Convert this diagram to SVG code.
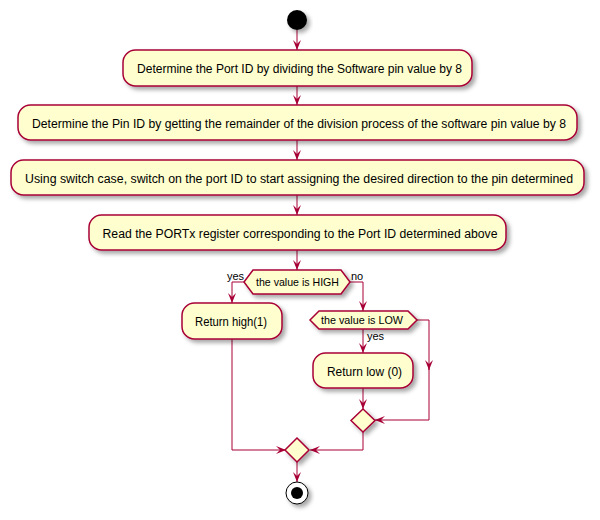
<svg xmlns="http://www.w3.org/2000/svg" width="600" height="520" viewBox="0 0 600 520">
<defs>
<filter id="sh" x="-20%" y="-20%" width="150%" height="170%">
<feDropShadow dx="3" dy="3" stdDeviation="2" flood-color="#000" flood-opacity="0.35"/>
</filter>
<marker id="ah" viewBox="0 0 10 8" refX="10" refY="4" markerWidth="10" markerHeight="8" markerUnits="userSpaceOnUse" orient="auto">
<path d="M0,0 L10,4 L0,8 L4,4 Z" fill="#A80036"/>
</marker>
<style>
.box{fill:#FEFECE;stroke:#A80036;stroke-width:1.5;filter:url(#sh)}
.t{font-family:"Liberation Sans",Arial,sans-serif;font-size:12px;fill:#000;text-anchor:middle}
.s{font-family:"Liberation Sans",Arial,sans-serif;font-size:11px;fill:#000}
.c{fill:none;stroke:#A80036;stroke-width:1}
</style>
</defs>
<rect width="600" height="520" fill="#fff"/>
<g id="connectors">
<path class="c" d="M297,30 V50" marker-end="url(#ah)"/>
<path class="c" d="M297,86 V105" marker-end="url(#ah)"/>
<path class="c" d="M297,140 V160" marker-end="url(#ah)"/>
<path class="c" d="M297,195 V215" marker-end="url(#ah)"/>
<path class="c" d="M297,250 V270" marker-end="url(#ah)"/>
<path class="c" d="M244,282 H232 V303" marker-end="url(#ah)"/>
<path class="c" d="M350,282 H363 V311" marker-end="url(#ah)"/>
<path class="c" d="M363,329 V353" marker-end="url(#ah)"/>
<path class="c" d="M417,320 H429 V370" marker-end="url(#ah)"/>
<path class="c" d="M429,368 V420 H375" marker-end="url(#ah)"/>
<path class="c" d="M363,388 V409" marker-end="url(#ah)"/>
<path class="c" d="M363,432 V450 H310" marker-end="url(#ah)"/>
<path class="c" d="M232,339 V450 H286" marker-end="url(#ah)"/>
<path class="c" d="M297,462 V482" marker-end="url(#ah)"/>
<text class="s" x="244" y="280" text-anchor="end">yes</text>
<text class="s" x="351" y="280">no</text>
<text class="s" x="367" y="340">yes</text>
</g>
<g id="start"><circle cx="297" cy="20" r="10" fill="#000" filter="url(#sh)"/></g>
<g id="n1"><rect class="box" x="123" y="50" width="349" height="36" rx="12.5"/><text class="t" x="299.5" y="73" textLength="325" lengthAdjust="spacingAndGlyphs">Determine the Port ID by dividing the Software pin value by 8</text></g>
<g id="n2"><rect class="box" x="18" y="105" width="559" height="35" rx="12.5"/><text class="t" x="299" y="128" textLength="534" lengthAdjust="spacingAndGlyphs">Determine the Pin ID by getting the remainder of the division process of the software pin value by 8</text></g>
<g id="n3"><rect class="box" x="11" y="160" width="573" height="35" rx="12.5"/><text class="t" x="299" y="183" textLength="548" lengthAdjust="spacingAndGlyphs">Using switch case, switch on the port ID to start assigning the desired direction to the pin determined</text></g>
<g id="n4"><rect class="box" x="89" y="215" width="417" height="35" rx="12.5"/><text class="t" x="300" y="238" textLength="395" lengthAdjust="spacingAndGlyphs">Read the PORTx register corresponding to the Port ID determined above</text></g>
<g id="d1"><polygon class="box" points="244,282 253,270 341,270 350,282 341,294 253,294"/><text class="s" x="297.5" y="286" text-anchor="middle" textLength="83" lengthAdjust="spacingAndGlyphs">the value is HIGH</text></g>
<g id="n5"><rect class="box" x="182" y="303" width="100" height="36" rx="12.5"/><text class="t" x="231" y="326" textLength="72" lengthAdjust="spacingAndGlyphs">Return high(1)</text></g>
<g id="d2"><polygon class="box" points="310,320 319,311 408,311 417,320 408,329 319,329"/><text class="s" x="362" y="324" text-anchor="middle" textLength="82" lengthAdjust="spacingAndGlyphs">the value is LOW</text></g>
<g id="n6"><rect class="box" x="313" y="353" width="100" height="35" rx="12.5"/><text class="t" x="364.5" y="376" textLength="75" lengthAdjust="spacingAndGlyphs">Return low (0)</text></g>
<g id="m2"><polygon class="box" points="363,409 375,420.5 363,432 351,420.5"/></g>
<g id="m1"><polygon class="box" points="297,438 309,450 297,462 285,450"/></g>
<g id="end"><circle cx="297" cy="493" r="11" fill="#fff" stroke="#000" stroke-width="1" filter="url(#sh)"/><circle cx="297" cy="493" r="6" fill="#000"/></g>
</svg>
